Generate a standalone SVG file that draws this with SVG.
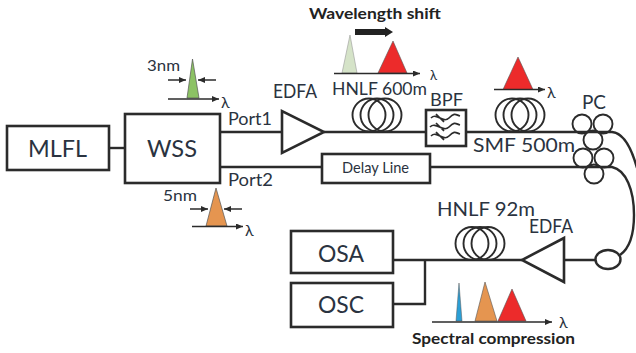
<svg xmlns="http://www.w3.org/2000/svg" width="636" height="353" viewBox="0 0 636 353">
<style>
text{font-family:Lato,"Open Sans","Liberation Sans",sans-serif;fill:#2a3340}
.x{font-size:24px}
.t{font-size:20px}
.s{font-size:17px}
.m{font-size:15px}
.k{font-size:16px}
.b{font-weight:700;font-size:15px;fill:#222}
.box{fill:#fff;stroke:#2b2b2b;stroke-width:2.600}
.l{fill:none;stroke:#2b2b2b;stroke-width:2.400}
.c{fill:none;stroke:#2b2b2b;stroke-width:1.900}
.a{fill:none;stroke:#2b2b2b;stroke-width:1.500;marker-end:url(#h)}
</style>
<defs>
<marker id="h" markerWidth="8" markerHeight="7" refX="7" refY="3" orient="auto" markerUnits="userSpaceOnUse"><path d="M0 0L7 3L0 6z" fill="#2b2b2b"/></marker>
<g id="coil" class="c"><ellipse cx="-8" cy="0" rx="16.500" ry="16.500"/><ellipse cx="0" cy="0" rx="16.500" ry="16.500"/><ellipse cx="8" cy="0" rx="16.500" ry="16.500"/></g>
</defs>
<g id="connectors">
<path class="l" d="M109 148H125"/>
<path class="l" d="M220 132H282M324 132H425M466 132H612C624 133 632 150 637 168"/>
<path class="l" d="M220 167H322M430 167H612C626 170 634 190 634 215C634 235 630 248 620 255"/>
<path class="l" d="M393 260H522M564 260H596M425 260V304H393"/>
</g>
<g id="MLFL"><rect class="box" x="7" y="126" width="102" height="44"/><text class="x" x="28" y="157" textLength="59" lengthAdjust="spacingAndGlyphs">MLFL</text></g>
<g id="WSS"><rect class="box" x="125" y="114" width="95" height="69"/><text class="x" x="147" y="157" textLength="50" lengthAdjust="spacingAndGlyphs">WSS</text></g>
<g id="EDFA1"><path class="box" d="M282 111V153L324 132Z"/><text class="t" x="273" y="98" textLength="44" lengthAdjust="spacingAndGlyphs">EDFA</text></g>
<g id="HNLF600"><use href="#coil" x="377" y="115"/><text class="s" x="332" y="95" textLength="95" lengthAdjust="spacingAndGlyphs">HNLF 600m</text></g>
<g id="BPF"><rect class="box" x="426" y="110" width="40" height="36"/><path fill="none" stroke="#2b2b2b" stroke-width="1.700" d="M431 118C437 112 443 124 449 118S456 115 460 116M430 127C436 121 443 133 449 127S456 124 460 125M431 136C437 130 443 142 449 136S456 133 460 134M436 114L444 122M436 123L444 131M436 132L444 140"/><text class="s" x="430" y="106" textLength="33" lengthAdjust="spacingAndGlyphs">BPF</text></g>
<g id="SMF500"><use href="#coil" x="520" y="115"/><text class="t" x="473" y="152" textLength="102" lengthAdjust="spacingAndGlyphs">SMF 500m</text></g>
<g id="PC"><text class="t" x="582" y="109" textLength="24" lengthAdjust="spacingAndGlyphs">PC</text>
<g class="c"><circle cx="582" cy="124" r="9.500"/><circle cx="603" cy="124" r="9.500"/><circle cx="593" cy="140" r="9.500"/><circle cx="583" cy="158" r="9.500"/><circle cx="604" cy="158" r="9.500"/><circle cx="594" cy="174" r="9.500"/></g></g>
<g id="DelayLine"><rect class="box" x="322" y="154" width="108" height="29"/><text class="m" x="342" y="173" textLength="67" lengthAdjust="spacingAndGlyphs">Delay Line</text></g>
<g id="PortLabels"><text class="s" x="228" y="125" textLength="44" lengthAdjust="spacingAndGlyphs">Port1</text><text class="s" x="228" y="186" textLength="45" lengthAdjust="spacingAndGlyphs">Port2</text></g>
<g id="spec3nm"><text class="k" x="147" y="71" textLength="33" lengthAdjust="spacingAndGlyphs">3nm</text><path d="M192.500 59L187 98H199Z" fill="#8cc264" stroke="#555" stroke-width=".7"/><path class="a" d="M168 80H186"/><path class="a" d="M216 80H198"/><path class="a" d="M168 99H219"/><text class="k" x="221" y="108">λ</text></g>
<g id="spec5nm"><text class="k" x="163" y="201" textLength="34" lengthAdjust="spacingAndGlyphs">5nm</text><path d="M216 188L206 226H227Z" fill="#e59550" stroke="#555" stroke-width=".7"/><path class="a" d="M190 209H208"/><path class="a" d="M242 209H224"/><path class="a" d="M192 226.500H243"/><text class="k" x="245" y="236">λ</text></g>
<g id="specShift"><text class="b" x="309" y="19" textLength="132" lengthAdjust="spacingAndGlyphs">Wavelength shift</text><path d="M355 29H385V27L393 32L385 37V35H355Z" fill="#222"/><path d="M350 35L342 73H357Z" fill="#d5e3c8" stroke="#999" stroke-width=".6"/><path d="M393 41L378 73H407Z" fill="#ec2b2b" stroke="#555" stroke-width=".6"/><path class="a" d="M334 73.500H420"/><text style="font-size:13px" x="430" y="80">λ</text></g>
<g id="specSMF"><path d="M518 57L503 89.500H533Z" fill="#ec2b2b" stroke="#555" stroke-width=".6"/><path class="a" d="M494 89.500H545"/><text class="k" x="547" y="98">λ</text></g>
<g id="HNLF92"><use href="#coil" x="480" y="243.500"/><text class="t" x="437" y="216" textLength="98" lengthAdjust="spacingAndGlyphs">HNLF 92m</text></g>
<g id="EDFA2"><path class="box" d="M564 238V282L522 260Z"/><text class="t" x="529" y="233" textLength="44" lengthAdjust="spacingAndGlyphs">EDFA</text></g>
<g id="Coupler"><ellipse cx="608" cy="259.500" rx="12.500" ry="9.500" fill="#fff" stroke="#2b2b2b" stroke-width="2.400"/></g>
<g id="OSA"><rect class="box" x="291" y="231" width="102" height="42"/><text class="x" x="318" y="262" textLength="46" lengthAdjust="spacingAndGlyphs">OSA</text></g>
<g id="OSC"><rect class="box" x="291" y="283" width="102" height="44"/><text class="x" x="318" y="313" textLength="46" lengthAdjust="spacingAndGlyphs">OSC</text></g>
<g id="specComp"><path d="M459 283L456 321H462Z" fill="#2b9fd6" stroke="#555" stroke-width=".5"/><path d="M485 282L475 321H497Z" fill="#e59550" stroke="#555" stroke-width=".6"/><path d="M512 289L498 321H526Z" fill="#ec2b2b" stroke="#555" stroke-width=".6"/><path class="a" d="M432 322H552"/><text class="k" x="559" y="328">λ</text><text class="b" x="412" y="344" textLength="163" lengthAdjust="spacingAndGlyphs">Spectral compression</text></g>
</svg>
